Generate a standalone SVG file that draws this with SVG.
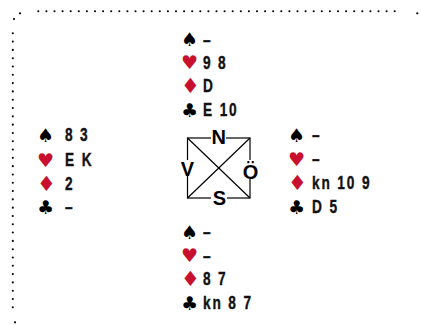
<svg xmlns="http://www.w3.org/2000/svg" width="421" height="325" viewBox="0 0 421 325">
<style>
.dots{fill:none;stroke:#000;stroke-width:2.1;stroke-linecap:round}
.dot{fill:#000}
.card{font-family:"Liberation Sans",Arial,sans-serif;font-weight:bold;font-size:18.5px;fill:#111;stroke:#111;stroke-width:0.4px;letter-spacing:2.5px}
.suit{font-family:"DejaVu Sans",sans-serif;font-size:19px}
.dia{font-size:21px}
.blk{fill:#000}
.red{fill:#c8102e}
.dir{font-family:"Liberation Sans",Arial,sans-serif;font-weight:bold;font-size:20px;fill:#000;text-anchor:middle}
.box{fill:none;stroke:#000;stroke-width:1.2}
.lbg{fill:#fff}
</style>
<g id="border">
<path class="dots" stroke-dasharray="0 8.1" d="M38.3 11.3 H402.8"/>
<path class="dots" stroke-dasharray="0 8.303" d="M12.8 33.3 V307.3"/>
<circle class="dot" cx="20" cy="13.3" r="1.1"/>
<circle class="dot" cx="14" cy="19" r="1.1"/>
<circle class="dot" cx="417.3" cy="13.3" r="1.1"/>
<circle class="dot" cx="15" cy="322.3" r="1.1"/>
</g>
<g id="north">
<text class="suit blk" x="181" y="46">♠</text>
<text class="suit red" x="181" y="69">♥</text>
<text class="suit dia red" x="181" y="93">♦</text>
<text class="suit blk" x="181" y="116.5">♣</text>
<text class="card" transform="translate(203,45.5) scale(0.74,1)">–</text>
<text class="card" transform="translate(203,68.5) scale(0.74,1)">9 8</text>
<text class="card" transform="translate(203,92) scale(0.74,1)">D</text>
<text class="card" transform="translate(203,116) scale(0.74,1)">E 10</text>
</g>
<g id="west">
<text class="suit blk" x="37" y="141.5">♠</text>
<text class="suit red" x="37" y="166.5">♥</text>
<text class="suit dia red" x="37" y="191">♦</text>
<text class="suit blk" x="37" y="213.5">♣</text>
<text class="card" transform="translate(65,141) scale(0.74,1)">8 3</text>
<text class="card" transform="translate(65,166) scale(0.74,1)">E K</text>
<text class="card" transform="translate(65,190) scale(0.74,1)">2</text>
<text class="card" transform="translate(65,213) scale(0.74,1)">–</text>
</g>
<g id="east">
<text class="suit blk" x="288" y="141.5">♠</text>
<text class="suit red" x="288" y="165.5">♥</text>
<text class="suit dia red" x="288" y="190">♦</text>
<text class="suit blk" x="288" y="213.5">♣</text>
<text class="card" transform="translate(312,141) scale(0.74,1)">–</text>
<text class="card" transform="translate(312,165) scale(0.74,1)">–</text>
<text class="card" transform="translate(312,189) scale(0.74,1)">kn 10 9</text>
<text class="card" transform="translate(312,213) scale(0.74,1)">D 5</text>
</g>
<g id="south">
<text class="suit blk" x="181" y="238.5">♠</text>
<text class="suit red" x="181" y="262">♥</text>
<text class="suit dia red" x="181" y="286">♦</text>
<text class="suit blk" x="181" y="309.5">♣</text>
<text class="card" transform="translate(203,238) scale(0.74,1)">–</text>
<text class="card" transform="translate(203,261.5) scale(0.74,1)">–</text>
<text class="card" transform="translate(203,285) scale(0.74,1)">8 7</text>
<text class="card" transform="translate(203,309) scale(0.74,1)">kn 8 7</text>
</g>
<g id="compass">
<rect class="box" x="187.5" y="138" width="62.5" height="60"/>
<line class="box" x1="187.5" y1="138" x2="250" y2="198"/>
<line class="box" x1="250" y1="138" x2="187.5" y2="198"/>
<rect class="lbg" x="211" y="130" width="15" height="14"/>
<rect class="lbg" x="181" y="160" width="13" height="16"/>
<rect class="lbg" x="242" y="160" width="17" height="19"/>
<rect class="lbg" x="211" y="188" width="16" height="16"/>
<text class="dir" x="218.7" y="144">N</text>
<text class="dir" x="187.5" y="175.5">V</text>
<text class="dir" x="250.5" y="178.5">Ö</text>
<text class="dir" x="219.5" y="204.5">S</text>
</g>
</svg>
